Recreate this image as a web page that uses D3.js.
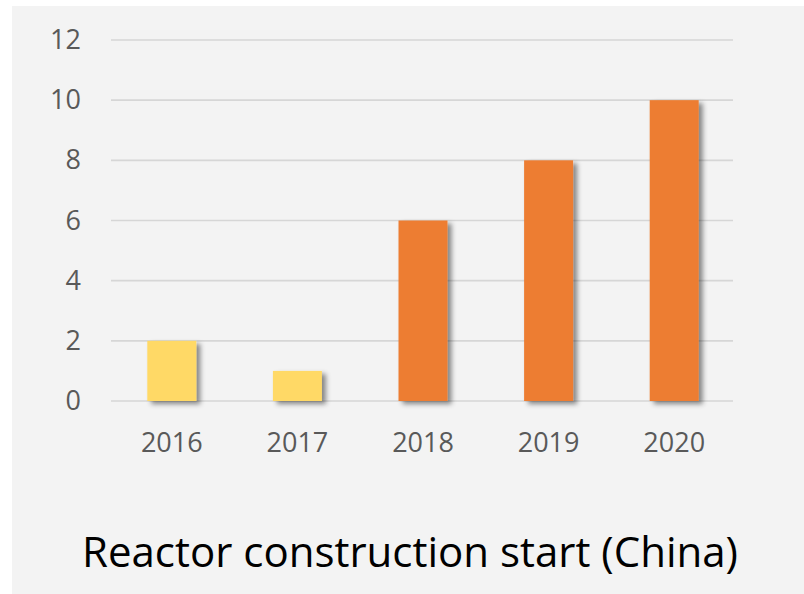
<!DOCTYPE html>
<html>
<head>
<meta charset="utf-8">
<script src="https://cdn.jsdelivr.net/npm/d3@7"></script>
<style>
  body { margin: 0; background: #fff; }
  svg { display: block; }
  text { font-family: "Open Sans", "Noto Sans", sans-serif; }
</style>
</head>
<body>
<div id="chart"></div>
<script>
var years = ["2016", "2017", "2018", "2019", "2020"];
var starts = [2, 1, 6, 8, 10];
var barColors = ["#FFD966", "#FFD966", "#ED7D31", "#ED7D31", "#ED7D31"];
var yTicks = [0, 2, 4, 6, 8, 10, 12];
var title = "Reactor construction start (China)";

var width = 804, height = 594;

var svg = d3.select("#chart").append("svg")
    .attr("width", width)
    .attr("height", height);

var defs = svg.append("defs");
var shadow = defs.append("filter")
    .attr("id", "shadow")
    .attr("x", "-20%").attr("y", "-20%")
    .attr("width", "150%").attr("height", "150%");
shadow.append("feDropShadow")
    .attr("dx", 4).attr("dy", 3)
    .attr("stdDeviation", 2.5)
    .attr("flood-color", "#000")
    .attr("flood-opacity", 0.45);

// panel
svg.append("rect")
    .attr("x", 12).attr("y", 6)
    .attr("width", width - 12).attr("height", height - 6)
    .attr("fill", "#F3F3F3");

var x = d3.scaleBand()
    .domain(years)
    .range([109, 737])
    .paddingInner(0.61)
    .paddingOuter(0.305);

var y = d3.scaleLinear()
    .domain([0, 12])
    .range([401, 40]);

// gridlines
svg.append("g")
    .selectAll("line")
    .data(yTicks)
    .enter().append("line")
    .attr("x1", 111)
    .attr("x2", 733)
    .attr("y1", function(d) { return y(d); })
    .attr("y2", function(d) { return y(d); })
    .attr("stroke", "#D6D6D6")
    .attr("stroke-width", 1.6);

// y labels
var yAxis = svg.append("g")
    .attr("transform", "translate(81,0)")
    .call(d3.axisLeft(y).tickValues(yTicks).tickSize(0).tickPadding(0));
yAxis.select(".domain").remove();
yAxis.selectAll("text")
    .attr("fill", "#595959")
    .style("font-size", "27px")
    .style("font-family", "'Open Sans', sans-serif");

// bars
svg.append("g")
    .selectAll("rect")
    .data(starts)
    .enter().append("rect")
    .attr("x", function(d, i) { return x(years[i]); })
    .attr("y", function(d) { return y(d); })
    .attr("width", x.bandwidth())
    .attr("height", function(d) { return y(0) - y(d); })
    .attr("fill", function(d, i) { return barColors[i]; })
    .attr("filter", "url(#shadow)");

// x labels
var xAxis = svg.append("g")
    .attr("transform", "translate(0,452)")
    .call(d3.axisBottom(x).tickSize(0).tickPadding(0));
xAxis.select(".domain").remove();
xAxis.selectAll("text")
    .attr("dy", 0)
    .attr("y", 0)
    .attr("fill", "#595959")
    .style("font-size", "27px")
    .style("font-family", "'Open Sans', sans-serif");

// title
svg.append("text")
    .attr("x", 410)
    .attr("y", 567)
    .attr("text-anchor", "middle")
    .attr("fill", "#000")
    .style("font-size", "42px")
    .text(title);
</script>
</body>
</html>
